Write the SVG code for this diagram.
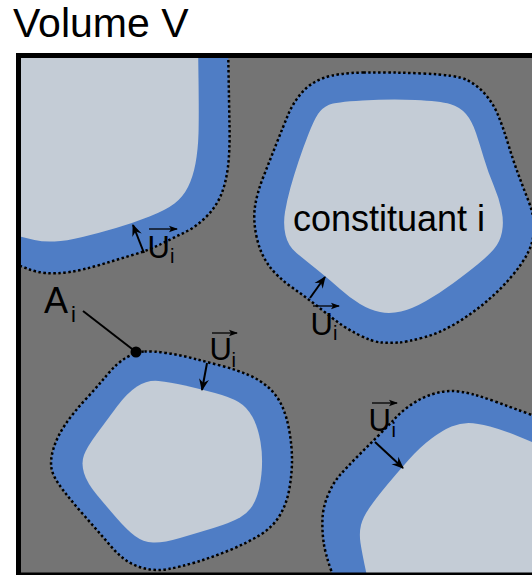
<svg xmlns="http://www.w3.org/2000/svg" width="532" height="575" viewBox="0 0 532 575">
<style>
.bg{fill:#747474}
.outer{fill:#4f7dc5;stroke:#000;stroke-width:2.5;stroke-dasharray:2.5 2.5}
.inner{fill:#c4ccd6}
.t{font-family:"Liberation Sans",Arial,sans-serif;fill:#000}
.arr{stroke:#000;stroke-width:2;fill:none;marker-end:url(#ah)}
.vec{stroke:#000;stroke-width:1.3;fill:none;marker-end:url(#vh)}
</style>
<defs>
<clipPath id="cp"><rect x="18.5" y="55.5" width="520" height="530"/></clipPath>
<marker id="ah" markerUnits="userSpaceOnUse" viewBox="-12 -6 14 12" refX="0" refY="0" markerWidth="14" markerHeight="12" orient="auto">
<path d="M1,0 L-11,-5 L-7,0 L-11,5 Z" fill="#000"/>
</marker>
<marker id="vh" markerUnits="userSpaceOnUse" viewBox="-9 -4 10 8" refX="0" refY="0" markerWidth="10" markerHeight="8" orient="auto">
<path d="M1,0 L-8,-3.2 L-6,0 L-8,3.2 Z" fill="#000"/>
</marker>
</defs>
<text class="t" x="13" y="37" font-size="41">Volume V</text>
<rect class="bg" x="18.5" y="55.5" width="530" height="530"/>
<g clip-path="url(#cp)">
<g id="particleA">
<path class="outer" d="M228,40 L228.5,70 Q229,100 229.5,125 Q230,150 228,166.5 Q226,183 221,195 Q216,207 206,217 Q196,227 184.5,232.5 Q173,238 161,244 Q149,250 132.5,255 Q116,260 99.5,265 Q83,270 69.5,272 Q56,274 46,273 Q36,272 29.5,269.5 Q23,267 14,263.5 L5,260 L0,260 L0,40 Z"/>
<path class="inner" d="M198,40 L198.5,78.5 Q199,117 198.5,133.5 Q198,150 195.5,163.5 Q193,177 188,187 Q183,197 174.5,203.5 Q166,210 149.5,216.5 Q133,223 116,228 Q99,233 82.5,237 Q66,241 54.5,241.5 Q43,242 34.5,240 Q26,238 18,236 L10,234 L0,234 L0,40 Z"/>
</g>
<g id="particleB">
<path class="outer" d="M363.5,72.5 Q390,72 423.5,73.5 Q457,75 467,80 Q477,85 485,94 Q493,103 498,115 Q503,127 508,143.5 Q513,160 518,173.5 Q523,187 528.5,201 Q534,215 534,227.5 Q534,240 528.5,251.5 Q523,263 511.5,276.5 Q500,290 486.5,301.5 Q473,313 456.5,323 Q440,333 423.5,337.5 Q407,342 398.5,342.5 Q390,343 381.5,342.5 Q373,342 358,334.5 Q343,327 326.5,313.5 Q310,300 293.5,288.5 Q277,277 268.5,265 Q260,253 256.5,236.5 Q253,220 255,206.5 Q257,193 263.5,176.5 Q270,160 276.5,143.5 Q283,127 288,115 Q293,103 301.5,93 Q310,83 323.5,78 Q337,73 363.5,72.5 Z"/>
<path class="inner" d="M362.5,100.5 Q390,99 415,100 Q440,101 450,104 Q460,107 466,114 Q472,121 476,133 Q480,145 484,158.5 Q488,172 493.5,185 Q499,198 501.5,210 Q504,222 502,232 Q500,242 494,249 Q488,256 477.5,264.5 Q467,273 453.5,283 Q440,293 426,301 Q412,309 401,311.5 Q390,314 380,312 Q370,310 360,304 Q350,298 340,289 Q330,280 317.5,270 Q305,260 296.5,253 Q288,246 285.5,235 Q283,224 285,212 Q287,200 290.5,187.5 Q294,175 298.5,161.5 Q303,148 308.5,134 Q314,120 318,114 Q322,108 328.5,105 Q335,102 362.5,100.5 Z"/>
<text class="t" x="293" y="231" font-size="36">constituant i</text>
</g>
<g id="particleC">
<path class="outer" d="M144.5,351.5 Q153,351 166.5,353 Q180,355 193.5,358.5 Q207,362 222,366 Q237,370 248.5,375 Q260,380 268.5,387.5 Q277,395 282,406 Q287,417 289.5,432 Q292,447 292,460 Q292,473 289.5,488 Q287,503 280,515 Q273,527 260,535 Q247,543 230,550 Q213,557 196.5,562 Q180,567 168.5,569 Q157,571 147,569 Q137,567 128.5,562 Q120,557 108.5,543.5 Q97,530 85,516.5 Q73,503 63,490 Q53,477 51.5,468.5 Q50,460 53.5,448.5 Q57,437 65,425 Q73,413 85,400 Q97,387 107,375 Q117,363 126.5,357.5 Q136,352 144.5,351.5 Z"/>
<path class="inner" d="M158.5,381 Q170,382 185,385.5 Q200,389 215,393 Q230,397 238.5,402 Q247,407 252.5,417 Q258,427 260.5,442 Q263,457 261.5,473.5 Q260,490 255,501 Q250,512 240,517.5 Q230,523 213.5,528 Q197,533 180,538 Q163,543 153,542.5 Q143,542 135,536 Q127,530 117,518.5 Q107,507 97,495 Q87,483 84,473 Q81,463 84,455 Q87,447 97,433.5 Q107,420 117,406.5 Q127,393 137,386.5 Q147,380 158.5,381 Z"/>
</g>
<g id="particleD">
<path class="outer" d="M338,590 L331.5,571.5 Q325,553 323.5,541.5 Q322,530 322.5,518.5 Q323,507 328,495 Q333,483 340,475 Q347,467 357,457 Q367,447 377,437 Q387,427 395,418.5 Q403,410 413,403.5 Q423,397 433,394 Q443,391 451.5,391 Q460,391 471.5,394 Q483,397 496.5,402 Q510,407 521,411 Q532,415 541,418.5 L550,422 L550,590 Z"/>
<path class="inner" d="M370,590 L366,571.5 Q362,553 360.5,543 Q359,533 361,525 Q363,517 370,507 Q377,497 387,485 Q397,473 408.5,460 Q420,447 431.5,438.5 Q443,430 451.5,426.5 Q460,423 468.5,423 Q477,423 490,426.5 Q503,430 517.5,436 Q532,442 541,445.5 L550,449 L550,590 Z"/>
</g>
</g>
<g id="connectors">
<line class="arr" x1="144" y1="253" x2="133" y2="225"/>
<line class="arr" x1="310" y1="298" x2="325" y2="277"/>
<line class="arr" x1="207" y1="363" x2="202" y2="390"/>
<line class="arr" x1="375" y1="442" x2="403" y2="468"/>
<line x1="83" y1="311" x2="136" y2="352" stroke="#000" stroke-width="2"/>
<circle cx="136" cy="352" r="5.5" fill="#000"/>
</g>
<g id="labelA">
<line class="vec" x1="149" y1="229" x2="177" y2="229"/>
<text class="t" x="147.5" y="258" font-size="31">U</text>
<text class="t" x="170" y="263" font-size="20">i</text>
</g>
<g id="labelB">
<line class="vec" x1="313" y1="306" x2="339" y2="306"/>
<text class="t" x="310.5" y="335" font-size="31">U</text>
<text class="t" x="333" y="340" font-size="20">i</text>
</g>
<g id="labelC">
<line class="vec" x1="212" y1="333" x2="237" y2="333"/>
<text class="t" x="209.5" y="360" font-size="31">U</text>
<text class="t" x="231.5" y="367" font-size="20">i</text>
</g>
<g id="labelD">
<line class="vec" x1="372" y1="403" x2="397" y2="403"/>
<text class="t" x="368.5" y="431" font-size="31">U</text>
<text class="t" x="391.5" y="437" font-size="20">i</text>
</g>
<g id="labelAi">
<text class="t" x="44" y="313" font-size="36">A</text>
<text class="t" x="71" y="322" font-size="22">i</text>
</g>
<rect x="18.5" y="55.5" width="530" height="519.5" fill="none" stroke="#000" stroke-width="5"/>
</svg>
